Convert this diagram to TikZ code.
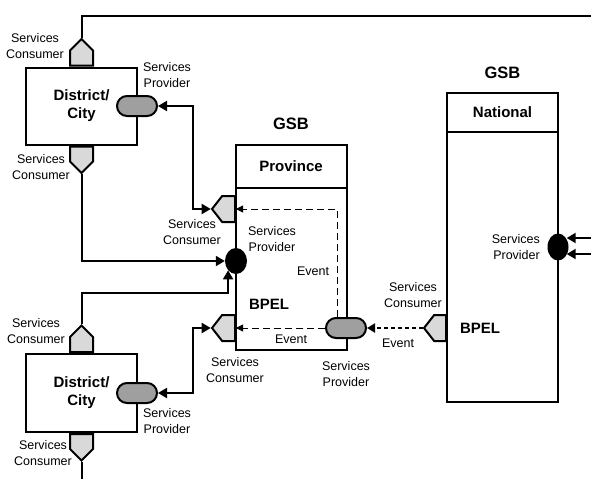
\documentclass[tikz,border=0pt]{standalone}
\usepackage{fontspec}
\setmainfont{Liberation Sans}
\usetikzlibrary{positioning,shapes,arrows.meta}

\tikzset{
  ln/.style={line width=2pt},
  tip/.style={-{Triangle[length=9pt,width=10pt]}},
  tips/.style={{Triangle[length=9pt,width=10pt]}-{Triangle[length=9pt,width=10pt]}},
  unitbox/.style={draw, ln, fill=white, minimum width=111pt, inner sep=0pt, font=\fontsize{15}{18}\selectfont\bfseries, align=center},
  consumer/.style={signal, draw, ln, fill=gray!30, inner sep=0pt},
  vcons/.style={consumer, minimum width=23pt, minimum height=15pt},
  hcons/.style={consumer, signal to=west, signal pointer angle=104, minimum width=23pt, minimum height=26pt},
  provider/.style={rounded rectangle, draw, ln, fill=gray!75, inner sep=0pt, minimum width=40pt, minimum height=20pt},
  endpoint/.style={ellipse, fill=black, inner sep=0pt, minimum width=22pt, minimum height=26pt},
  lbl/.style={font=\fontsize{12.5}{16}\selectfont, align=center, inner sep=0pt},
  hd/.style={font=\fontsize{16.5}{18}\selectfont\bfseries, inner sep=0pt},
  bp/.style={font=\fontsize{15}{18}\selectfont\bfseries, inner sep=0pt}
}

\begin{document}
\begin{tikzpicture}[x=1pt, y=-1pt]
        \useasboundingbox (0,0) rectangle (591,479);
        % district / city units
        \node[unitbox, minimum height=77pt] (dc1) at (81.5,106) {District/\\City};
        \node[unitbox, minimum height=78pt] (dc2) at (81.5,393) {District/\\City};
        % province
        \node[unitbox, minimum height=43pt] (provhead) at (291,166.5) {Province};
        \node[unitbox, minimum height=162pt] (prov) at (291,269) {};
        \node[hd, above = 14pt of provhead] (gsbprov) {GSB};
        % national
        \node[unitbox, minimum height=39pt] (nathead) at (502.5,112.5) {National};
        \node[unitbox, minimum height=270pt] (nat) at (502.5,267) {};
        \node[hd, above = 13pt of nathead] (gsbnat) {GSB};

        % consumers
        \node[vcons, signal to=north, anchor=south] (dc1top) at (dc1.north) {};
        \node[vcons, signal to=south, anchor=north] (dc1bot) at (dc1.south) {};
        \node[vcons, signal to=north, anchor=south] (dc2top) at (dc2.north) {};
        \node[vcons, signal to=south, anchor=north] (dc2bot) at (dc2.south) {};
        \node[hcons, anchor=east] (provcons1) at (236,209) {};
        \node[hcons, anchor=east] (provcons2) at (236,328) {};
        \node[hcons, anchor=east, minimum width=22pt] (natcons) at (447,328) {};

        % providers
        \node[provider] (dc1prov) at (137,106) {};
        \node[provider] (dc2prov) at (137,393) {};
        \node[provider] (provprov) at (346,328) {};
        \node[endpoint] (provsp) at (236,261) {};
        \node[endpoint, minimum width=21pt, minimum height=27pt] (natsp) at (558,247) {};

        \coordinate (topend) at (591,16);
        \coordinate (botend) at (81.5,479);
        \coordinate (in1) at (591,238);
        \coordinate (in2) at (591,254);

        % connectors
        \draw[ln] (dc1top.north) |- (topend);
        \draw[ln] (dc2bot.south) -- (botend);
        \draw[ln, tip] (dc1bot.south) |- (provsp.west);
        \draw[ln, tip] (dc2top.north) -- ++(0,-31) -| (provsp.south west);
        \draw[ln, tips] (dc1prov.east) -- ++(35,0) |- (provcons1.west);
        \draw[ln, tips] (dc2prov.east) -- ++(35,0) |- (provcons2.west);
        \draw[thick, dash pattern=on 7pt off 4pt, -{Triangle[length=7pt,width=7pt]}] ([xshift=-9pt]provprov.north) |- (provcons1.east);
        \draw[thick, dash pattern=on 7pt off 4pt, -{Triangle[length=7pt,width=7pt]}] (provprov.west) -- (provcons2.east);
        \draw[ln, dash pattern=on 4pt off 3pt, -{Triangle[length=8pt,width=9pt]}] (natcons.west) -- (provprov.east);
        \draw[ln, tip] (in1) -- ([xshift=-2pt]in1 -| natsp.east);
        \draw[ln, tip] (in2) -- ([xshift=-2pt]in2 -| natsp.east);

        % labels
        \node[lbl] (l1) at (35,46) {Services\\Consumer};
        \node[lbl] (l2) at (167,75) {Services\\Provider};
        \node[lbl] (l3) at (41,167) {Services\\Consumer};
        \node[lbl] (l4) at (192,232) {Services\\Consumer};
        \node[lbl] (l5) at (272,239) {Services\\Provider};
        \node[lbl] (ev1) at (313,271) {Event};
        \node[bp] (bpel1) at (269,304) {BPEL};
        \node[lbl] (ev2) at (291,339) {Event};
        \node[lbl] (l6) at (235,370) {Services\\Consumer};
        \node[lbl] (l7) at (346,374) {Services\\Provider};
        \node[lbl] (l8) at (413,295) {Services\\Consumer};
        \node[lbl] (ev3) at (398,343) {Event};
        \node[lbl, align=right, anchor=east] (l9) at (540,247) {Services\\Provider};
        \node[bp] (bpel2) at (480,328) {BPEL};
        \node[lbl] (l10) at (36,331) {Services\\Consumer};
        \node[lbl] (l11) at (167,421) {Services\\Provider};
        \node[lbl] (l12) at (43,453) {Services\\Consumer};
\end{tikzpicture}
\end{document}
